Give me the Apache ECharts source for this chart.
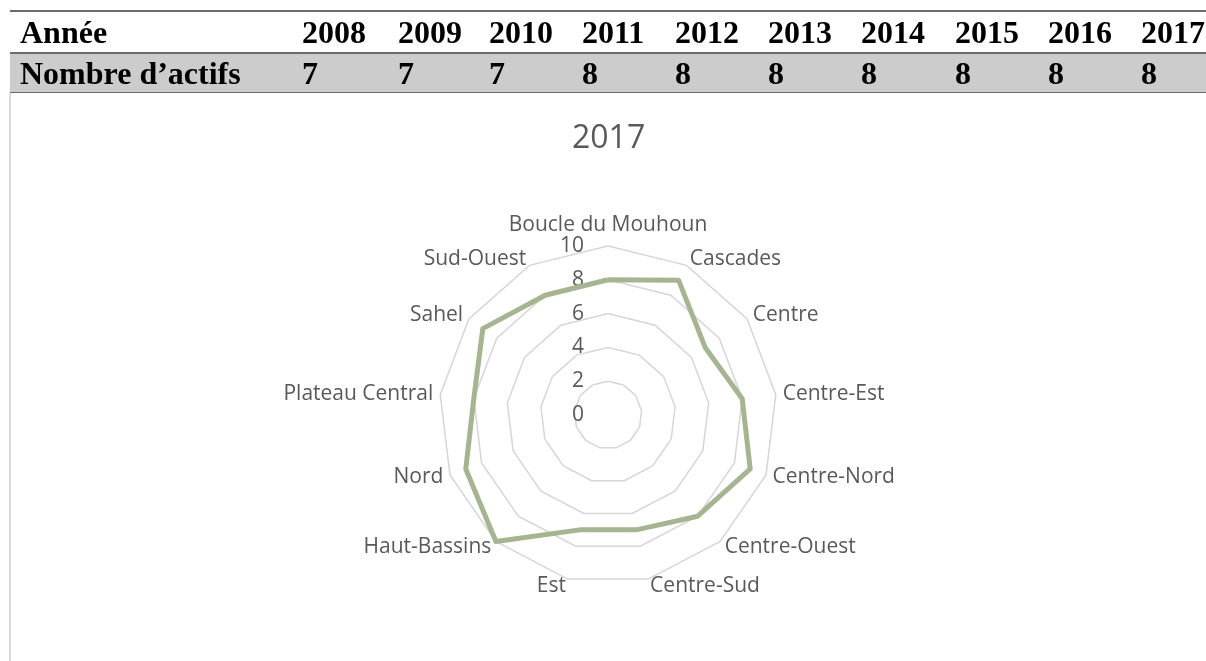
<!DOCTYPE html>
<html>
<head>
<meta charset="utf-8">
<script src="https://cdn.jsdelivr.net/npm/echarts@6/dist/echarts.min.js"></script>
<style>
  html, body { margin: 0; padding: 0; background: #ffffff; }
  #chart { position: absolute; left: 0; top: 0; width: 1206px; height: 661px; }
  #frame { position: absolute; left: 9px; top: 93px; width: 0; height: 568px; border-left: 2px solid #d9d9d9; }
  #tbl { position: absolute; left: 10px; top: 10px; width: 1196px; font-family: "Liberation Serif", "Times New Roman", serif; font-weight: bold; font-size: 32px; color: #000; }
  .row { position: relative; height: 40px; }
  .row1 { border-top: 2px solid #6b6b6b; }
  .row2 { border-top: 2px solid #6b6b6b; border-bottom: 1.5px solid #6b6b6b; background: #cccccc; height: 38px; margin-left: 0; }
  .cell { position: absolute; top: 0; line-height: 40px; white-space: nowrap; }
  .row2 .cell { line-height: 38px; }
</style>
</head>
<body>
<div id="chart"></div>
<div id="frame"></div>
<div id="tbl">
  <div class="row row1" id="r1"></div>
  <div class="row row2" id="r2"></div>
</div>
<script>
// ---- table data ----
const tableRowLabels = ['Année', 'Nombre d’actifs'];
const years = ['2008', '2009', '2010', '2011', '2012', '2013', '2014', '2015', '2016', '2017'];
const actifs = [7, 7, 7, 8, 8, 8, 8, 8, 8, 8];

// ---- radar data ----
const chartTitle = '2017';
const regions = ['Boucle du Mouhoun', 'Cascades', 'Centre', 'Centre-Est', 'Centre-Nord', 'Centre-Ouest',
  'Centre-Sud', 'Est', 'Haut-Bassins', 'Nord', 'Plateau Central', 'Sahel', 'Sud-Ouest'];
const values2017 = [8, 9, 7, 8, 9, 8, 7, 7, 10, 9, 8, 9, 8];
const axisMin = 0, axisMax = 10, axisStep = 2;

// build table (layout only)
const colX = [292, 388, 479, 572, 665, 758, 851, 945, 1038, 1131];
function fillRow(id, label, items) {
  const r = document.getElementById(id);
  const first = document.createElement('div');
  first.className = 'cell'; first.style.left = '10px'; first.textContent = label;
  r.appendChild(first);
  items.forEach((t, i) => {
    const c = document.createElement('div');
    c.className = 'cell'; c.style.left = colX[i] + 'px'; c.textContent = t;
    r.appendChild(c);
  });
}
fillRow('r1', tableRowLabels[0], years);
fillRow('r2', tableRowLabels[1], actifs.map(String));

// ECharts radar goes counter-clockwise; Excel goes clockwise -> reorder
const order = [0];
for (let i = regions.length - 1; i >= 1; i--) order.push(i);

const indicator = order.map((idx, k) => {
  const o = { name: regions[idx], min: axisMin, max: axisMax };
  if (k === 0) o.axisLabel = { show: true };
  return o;
});

const chart = echarts.init(document.getElementById('chart'), null, { renderer: 'canvas' });
chart.setOption({
  backgroundColor: '#ffffff',
  animation: false,
  title: {
    text: chartTitle,
    left: 567,
    top: 118,
    textStyle: { fontFamily: 'Open Sans', fontSize: 32, fontWeight: 'normal', color: '#595959' }
  },
  radar: {
    center: [608, 415],
    radius: 169,
    startAngle: 90,
    shape: 'polygon',
    splitNumber: (axisMax - axisMin) / axisStep,
    indicator: indicator,
    axisName: { color: '#595959', fontFamily: 'Open Sans', fontSize: 21 },
    nameGap: 7,
    axisLine: { show: false },
    axisTick: { show: false },
    splitArea: { show: false },
    splitLine: { lineStyle: { color: '#d6d6d6', width: 1.5 } },
    axisLabel: { show: false, color: '#595959', fontFamily: 'Open Sans', fontSize: 21, margin: 24 }
  },
  series: [{
    type: 'radar',
    symbol: 'none',
    lineStyle: { color: '#a5b592', width: 5 },
    data: [{ name: chartTitle, value: order.map(i => values2017[i]) }]
  }]
});
</script>
</body>
</html>
